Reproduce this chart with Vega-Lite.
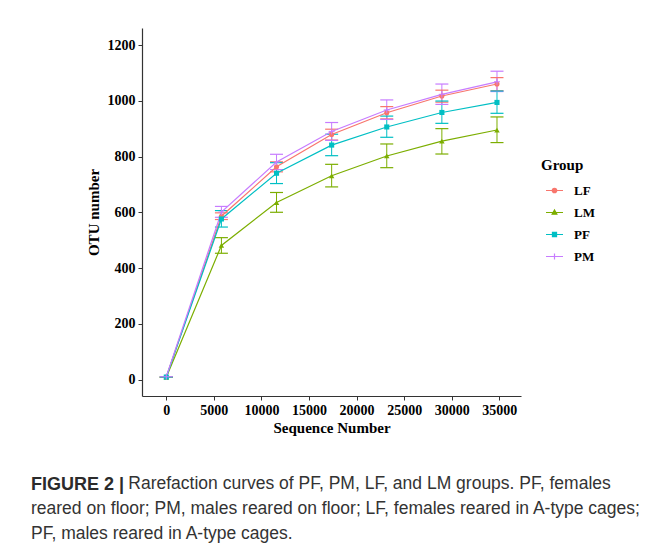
{
  "$schema": "https://vega.github.io/schema/vega-lite/v6.json",
  "autosize": {"type": "none"},
  "width": 379,
  "height": 368,
  "padding": {"left": 142, "top": 28, "right": 150, "bottom": 154},
  "background": "white",
  "title": {
    "text": "FIGURE 2 |",
    "subtitle": [
      "\u200b\u2007\u2007\u2007\u2007\u2007\u2007\u2007\u2007\u2007\u00a0\u00a0Rarefaction curves of PF, PM, LF, and LM groups. PF, females",
      "reared on floor; PM, males reared on floor; LF, females reared in A-type cages;",
      "PF, males reared in A-type cages."
    ],
    "orient": "bottom",
    "anchor": "start",
    "frame": "group",
    "dx": -111,
    "offset": 41,
    "align": "left",
    "font": "Liberation Sans",
    "fontSize": 18,
    "fontWeight": "bold",
    "color": "#2b2b2b",
    "subtitleFont": "Liberation Sans",
    "subtitleFontSize": 17.5,
    "subtitleFontWeight": "normal",
    "subtitleColor": "#333333",
    "subtitleLineHeight": 25,
    "subtitlePadding": -19
  },
  "data": {
    "values": [
      {"Group": "LF", "x": 0, "y": 9, "lo": 9, "hi": 9},
      {"Group": "LF", "x": 5793, "y": 586, "lo": 574, "hi": 598},
      {"Group": "LF", "x": 11586, "y": 763, "lo": 745, "hi": 781},
      {"Group": "LF", "x": 17379, "y": 879, "lo": 859, "hi": 898},
      {"Group": "LF", "x": 23172, "y": 957, "lo": 935, "hi": 979},
      {"Group": "LF", "x": 28965, "y": 1017, "lo": 995, "hi": 1038},
      {"Group": "LF", "x": 34758, "y": 1060, "lo": 1036, "hi": 1083},
      {"Group": "LM", "x": 0, "y": 8, "lo": 8, "hi": 8},
      {"Group": "LM", "x": 5793, "y": 481, "lo": 453, "hi": 509},
      {"Group": "LM", "x": 11586, "y": 635, "lo": 600, "hi": 671},
      {"Group": "LM", "x": 17379, "y": 731, "lo": 691, "hi": 772},
      {"Group": "LM", "x": 23172, "y": 802, "lo": 760, "hi": 845},
      {"Group": "LM", "x": 28965, "y": 855, "lo": 809, "hi": 900},
      {"Group": "LM", "x": 34758, "y": 895, "lo": 850, "hi": 942},
      {"Group": "PF", "x": 0, "y": 9, "lo": 9, "hi": 9},
      {"Group": "PF", "x": 5793, "y": 576, "lo": 547, "hi": 606},
      {"Group": "PF", "x": 11586, "y": 740, "lo": 703, "hi": 778},
      {"Group": "PF", "x": 17379, "y": 841, "lo": 803, "hi": 880},
      {"Group": "PF", "x": 23172, "y": 906, "lo": 869, "hi": 945},
      {"Group": "PF", "x": 28965, "y": 958, "lo": 919, "hi": 999},
      {"Group": "PF", "x": 34758, "y": 994, "lo": 955, "hi": 1035},
      {"Group": "PM", "x": 0, "y": 10, "lo": 10, "hi": 10},
      {"Group": "PM", "x": 5793, "y": 601, "lo": 582, "hi": 621},
      {"Group": "PM", "x": 11586, "y": 780, "lo": 753, "hi": 808},
      {"Group": "PM", "x": 17379, "y": 890, "lo": 858, "hi": 922},
      {"Group": "PM", "x": 23172, "y": 967, "lo": 933, "hi": 1003},
      {"Group": "PM", "x": 28965, "y": 1023, "lo": 987, "hi": 1060},
      {"Group": "PM", "x": 34758, "y": 1068, "lo": 1033, "hi": 1106}
    ]
  },
  "encoding": {
    "x": {
      "field": "x", "type": "quantitative",
      "scale": {"domain": [-2554, 37282], "nice": false, "zero": false},
      "axis": {
        "title": "Sequence Number",
        "values": [0, 5000, 10000, 15000, 20000, 25000, 30000, 35000],
        "format": "d",
        "grid": false,
        "titlePadding": 3
      }
    },
    "y": {
      "field": "y", "type": "quantitative",
      "scale": {"domain": [-59, 1261], "nice": false, "zero": false},
      "axis": {
        "title": "OTU number",
        "values": [0, 200, 400, 600, 800, 1000, 1200],
        "format": "d",
        "grid": false,
        "titlePadding": 6
      }
    },
    "color": {
      "field": "Group", "type": "nominal", "legend": {"title": "Group"},
      "scale": {"domain": ["LF", "LM", "PF", "PM"], "range": ["#F8766D", "#7CAE00", "#00BFC4", "#C77CFF"]}
    }
  },
  "layer": [
    {
      "transform": [{"filter": "datum.x == 0"}],
      "mark": {"type": "point", "filled": true, "size": 289, "opacity": 0, "strokeWidth": 1.2},
      "encoding": {
        "shape": {
          "field": "Group", "type": "nominal",
          "scale": {"domain": ["LF", "LM", "PF", "PM"], "range": [
            "M-1,0H1M0.26,0A0.26,0.26 0 1,1 -0.26,0A0.26,0.26 0 1,1 0.26,0Z",
            "M-1,0H1M0,-0.3L0.28,0.2L-0.28,0.2Z",
            "M-1,0H1M-0.24,-0.24H0.24V0.24H-0.24Z",
            "M-1,0H1M0,-0.36V0.36"
          ]},
          "legend": {"title": "Group"}
        },
        "stroke": {"field": "Group", "type": "nominal",
          "scale": {"domain": ["LF", "LM", "PF", "PM"], "range": ["#F8766D", "#7CAE00", "#00BFC4", "#C77CFF"]},
          "legend": {"title": "Group"}}
      }
    },
    {
      "mark": {"type": "rule", "strokeWidth": 1},
      "encoding": {
        "y": {"field": "lo", "type": "quantitative"},
        "y2": {"field": "hi"}
      }
    },
    {
      "mark": {"type": "tick", "orient": "horizontal", "size": 13, "thickness": 1.2, "opacity": 1},
      "encoding": {"y": {"field": "lo", "type": "quantitative"}}
    },
    {
      "mark": {"type": "tick", "orient": "horizontal", "size": 13, "thickness": 1.2, "opacity": 1},
      "encoding": {"y": {"field": "hi", "type": "quantitative"}}
    },
    {
      "mark": {"type": "line", "strokeWidth": 1.2},
      "encoding": {}
    },
    {
      "transform": [{"filter": "datum.Group == 'LF'"}],
      "mark": {"type": "point", "shape": "circle", "filled": true, "size": 26, "opacity": 1},
      "encoding": {}
    },
    {
      "transform": [{"filter": "datum.Group == 'LM'"}],
      "mark": {"type": "point", "shape": "triangle-up", "filled": true, "size": 30, "opacity": 1},
      "encoding": {}
    },
    {
      "transform": [{"filter": "datum.Group == 'PF'"}],
      "mark": {"type": "point", "shape": "square", "filled": true, "size": 26, "opacity": 1},
      "encoding": {}
    },
    {
      "transform": [{"filter": "datum.Group == 'PM'"}],
      "mark": {"type": "point", "shape": "M-1,0H1M0,-1V1", "filled": false, "size": 36, "strokeWidth": 1, "opacity": 1},
      "encoding": {}
    }
  ],
  "config": {
    "view": {"stroke": null},
    "axis": {
      "labelFont": "Liberation Serif",
      "labelFontSize": 14,
      "labelFontWeight": "bold",
      "labelColor": "#000000",
      "titleFont": "Liberation Serif",
      "titleFontSize": 15,
      "titleFontWeight": "bold",
      "titleColor": "#000000",
      "domainColor": "#333333",
      "domainWidth": 1.2,
      "tickColor": "#333333",
      "tickWidth": 1,
      "tickSize": 4,
      "labelPadding": 3
    },
    "legend": {
      "orient": "none",
      "legendX": 399,
      "legendY": 130,
      "padding": 0,
      "titleFont": "Liberation Serif",
      "titleFontSize": 15,
      "titleFontWeight": "bold",
      "titleColor": "#000000",
      "titlePadding": 8,
      "labelFont": "Liberation Serif",
      "labelFontSize": 13,
      "labelFontWeight": "bold",
      "labelColor": "#000000",
      "labelOffset": 10,
      "symbolSize": 289,
      "symbolStrokeWidth": 1.2,
      "symbolOpacity": 1,
      "symbolOffset": 4,
      "rowPadding": 5
    }
  }
}
